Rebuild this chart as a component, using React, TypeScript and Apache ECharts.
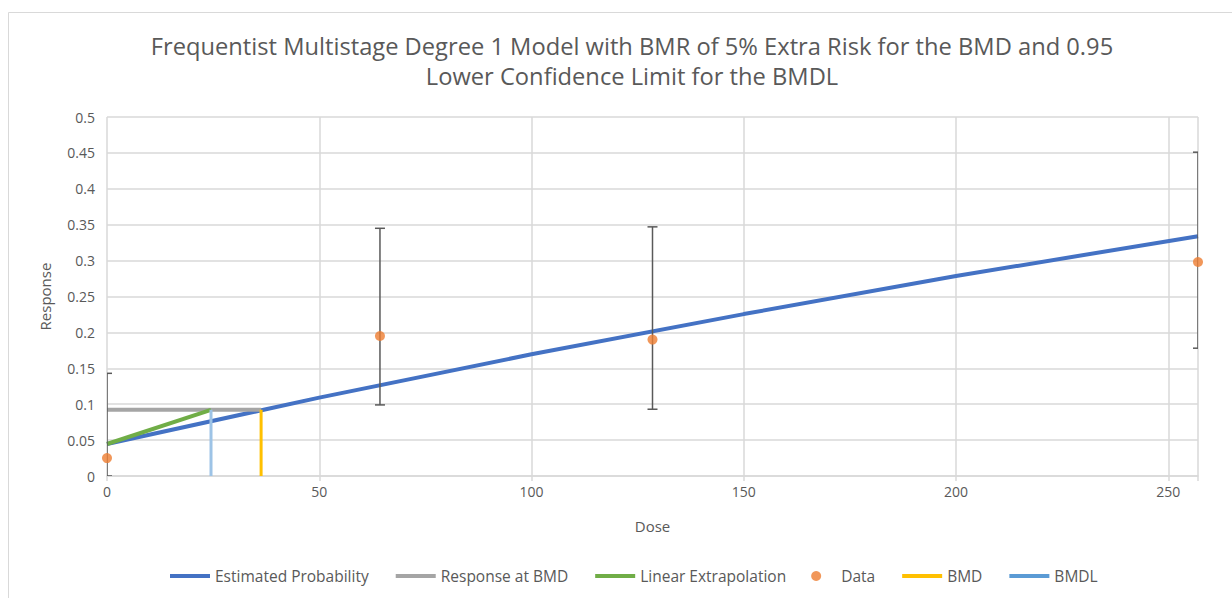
import React, { useEffect, useRef } from "react";
import * as echarts from "echarts";

const titleLines = [
  "Frequentist Multistage Degree 1 Model with BMR of 5% Extra Risk for the BMD and 0.95",
  "Lower Confidence Limit for the BMDL",
];
const xTicks = [0, 50, 100, 150, 200, 250];
const estimatedProbability = [
  [0, 0.0446],
  [50, 0.1092],
  [100, 0.1695],
  [150, 0.2255],
  [200, 0.2785],
  [257, 0.334],
];
const responseAtBMD = [
  [0, 0.0922],
  [36.3, 0.0922],
];
const linearExtrapolation = [
  [0, 0.0446],
  [24.5, 0.0922],
];
const dataDose = [0, 64.3, 128.5, 257];
const dataResponse = [0.025, 0.195, 0.19, 0.298];
const dataLower = [0, 0.099, 0.093, 0.178];
const dataUpper = [0.143, 0.345, 0.347, 0.451];
const bmdLine = [
  [36.3, 0],
  [36.3, 0.0922],
];
const bmdlLine = [
  [24.5, 0],
  [24.5, 0.0922],
];

const FONT = "Open Sans";
const GREY = "#595959";

export default function App() {
  const ref = useRef<HTMLDivElement>(null);
  useEffect(() => {
    document.body.style.margin = "0";
    const chart = echarts.init(ref.current!, null, { renderer: "svg" });
    const scatterData = dataDose.map((d, i) => [d, dataResponse[i]]);
    const errData = dataDose.map((d, i) => [d, dataLower[i], dataUpper[i]]);
    const lineSeries = (name: string, data: number[][], color: string, width: number) => ({
      name,
      type: "line",
      data,
      symbol: "none",
      showSymbol: false,
      lineStyle: { color, width },
      itemStyle: { color },
      z: 3,
    });
    const legendLine = (name: string, color: string) => ({
      name,
      itemStyle: { opacity: 0 },
      lineStyle: { color, width: 4 },
    });
    chart.setOption({
      animation: false,
      textStyle: { fontFamily: FONT },
      graphic: [
        {
          type: "rect",
          shape: { x: 8.5, y: 12.5, width: 1300, height: 700 },
          style: { fill: "none", stroke: "#D9D9D9", lineWidth: 1 },
          silent: true,
          z: -10,
        },
      ],
      title: {
        text: titleLines.join("\n"),
        left: 627,
        textAlign: "center",
        top: 26,
        textStyle: {
          fontFamily: FONT,
          fontSize: 23.7,
          fontWeight: "normal",
          color: GREY,
          lineHeight: 30,
        },
      },
      grid: { left: 107, right: 34, top: 117, bottom: 122, containLabel: false },
      xAxis: {
        type: "value",
        min: 0,
        max: 257,
        interval: 50,
        name: "Dose",
        nameLocation: "middle",
        nameGap: 42,
        nameTextStyle: { color: GREY, fontSize: 15, fontFamily: FONT },
        axisLine: { show: true, lineStyle: { color: "#D9D9D9", width: 1.5 } },
        axisTick: { show: true, length: 5, lineStyle: { color: "#D9D9D9", width: 1.5 } },
        axisLabel: {
          color: GREY,
          fontSize: 14,
          fontFamily: FONT,
          margin: 8,
          formatter: (v: number) => (xTicks.indexOf(v) >= 0 ? String(v) : ""),
        },
        splitLine: { show: true, lineStyle: { color: "#D9D9D9", width: 1.5 } },
      },
      yAxis: {
        type: "value",
        min: 0,
        max: 0.5,
        interval: 0.05,
        name: "Response",
        nameLocation: "middle",
        nameGap: 55,
        nameTextStyle: { color: GREY, fontSize: 15, fontFamily: FONT },
        axisLine: { show: false },
        axisTick: { show: false },
        axisLabel: { color: GREY, fontSize: 14, fontFamily: FONT, margin: 12 },
        splitLine: { show: true, lineStyle: { color: "#D9D9D9", width: 1.5 } },
      },
      legend: {
        bottom: 9,
        left: 163,
        itemWidth: 40,
        itemHeight: 10,
        itemGap: 25,
        textStyle: { color: GREY, fontSize: 15.5, fontFamily: FONT },
        data: [
          legendLine("Estimated Probability", "#4472C4"),
          legendLine("Response at BMD", "#A5A5A5"),
          legendLine("Linear Extrapolation", "#70AD47"),
          { name: "Data", icon: "circle" },
          legendLine("BMD", "#FFC000"),
          legendLine("BMDL", "#5B9BD5"),
        ],
      },
      series: [
        lineSeries("Estimated Probability", estimatedProbability, "#4472C4", 4),
        lineSeries("Response at BMD", responseAtBMD, "#A5A5A5", 4),
        lineSeries("Linear Extrapolation", linearExtrapolation, "#70AD47", 4),
        {
          name: "Data error",
          type: "custom",
          clip: true,
          data: errData,
          encode: { x: 0, y: [1, 2] },
          z: 4,
          renderItem: (params: any, api: any) => {
            const x = api.value(0);
            const lo = api.coord([x, api.value(1)]);
            const hi = api.coord([x, api.value(2)]);
            const w = 5;
            const style = { stroke: GREY, lineWidth: 1.5 };
            return {
              type: "group",
              children: [
                { type: "line", shape: { x1: lo[0], y1: lo[1], x2: hi[0], y2: hi[1] }, style },
                { type: "line", shape: { x1: lo[0] - w, y1: lo[1], x2: lo[0] + w, y2: lo[1] }, style },
                { type: "line", shape: { x1: hi[0] - w, y1: hi[1], x2: hi[0] + w, y2: hi[1] }, style },
              ],
            };
          },
        },
        {
          name: "Data",
          type: "scatter",
          data: scatterData,
          symbol: "circle",
          symbolSize: 10,
          clip: false,
          itemStyle: { color: "#ED7D31" },
          z: 5,
        },
        lineSeries("BMD", bmdLine, "#FFC000", 3),
        lineSeries("BMDL", bmdlLine, "#9DC3E6", 3),
      ],
    });
    return () => chart.dispose();
  }, []);
  return <div ref={ref} style={{ width: 1232, height: 598 }} />;
}
